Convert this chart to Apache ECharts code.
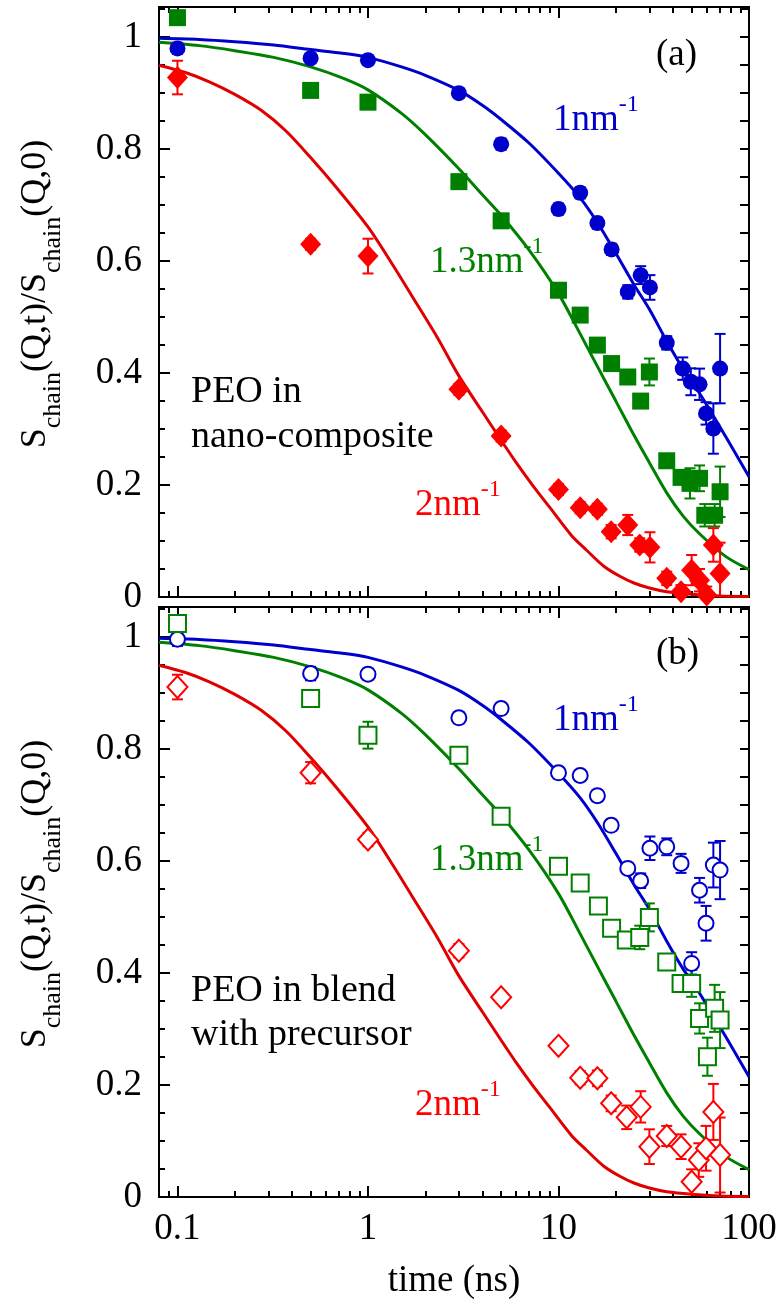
<!DOCTYPE html>
<html><head><meta charset="utf-8">
<script src="https://cdn.jsdelivr.net/npm/echarts@6/dist/echarts.min.js"></script>
<style>html,body{margin:0;padding:0;background:#fff}#c{width:781px;height:1305px}</style>
</head><body><div id="c"></div>
<script>
// ---------- axis ranges and tick labels ----------
const X_MIN = 0.08, X_MAX = 100, Y_MAX = 1.054;
const majorX = [0.1, 1, 10, 100];
const minorX = [0.09, 0.2, 0.3, 0.4, 0.5, 0.6, 0.7, 0.8, 0.9, 2, 3, 4, 5, 6, 7, 8, 9, 20, 30, 40, 50, 60, 70, 80, 90];

// ---------- panel (a): PEO in nano-composite (filled symbols) ----------
const aBlueT = [0.1, 0.5, 1, 3, 5, 10, 13, 16, 19, 23.1, 27, 30.2, 37, 44.9, 49.5, 55, 59.5, 65, 70.5];
const aBlueV = [0.980, 0.9625, 0.959, 0.900, 0.809, 0.693, 0.722, 0.668, 0.621, 0.545, 0.575, 0.553, 0.454, 0.408, 0.3845, 0.380, 0.328, 0.301, 0.408];
const aBlueE = [0.010, 0.008, 0.008, 0.008, 0.010, 0.010, 0.010, 0.010, 0.010, 0.012, 0.016, 0.022, 0.012, 0.020, 0.024, 0.028, 0.020, 0.045, 0.062];

const aGreenT = [0.1, 0.5, 1, 3, 5, 10, 13, 16, 19, 23.1, 27, 30, 37, 44, 49, 55, 58.6, 66, 70.5];
const aGreenV = [1.035, 0.905, 0.884, 0.742, 0.672, 0.548, 0.5036, 0.450, 0.417, 0.393, 0.350, 0.402, 0.2434, 0.2137, 0.203, 0.212, 0.146, 0.146, 0.188];
const aGreenE = [0.010, 0.008, 0.008, 0.008, 0.008, 0.008, 0.008, 0.008, 0.008, 0.010, 0.012, 0.024, 0.010, 0.012, 0.027, 0.023, 0.020, 0.020, 0.045];

const aRedT = [0.1, 0.5, 1, 3, 5, 10, 13, 16, 18.9, 23.1, 26.7, 30.2, 37, 44, 50, 55, 60, 65, 70.5];
const aRedV = [0.928, 0.630, 0.609, 0.371, 0.2875, 0.192, 0.1595, 0.1566, 0.1167, 0.1286, 0.0929, 0.0887, 0.0333, 0.0095, 0.048, 0.030, 0.0036, 0.093, 0.042];
const aRedE = [0.030, 0.010, 0.031, 0.010, 0.010, 0.010, 0.010, 0.010, 0.012, 0.018, 0.012, 0.027, 0.012, 0.012, 0.027, 0.020, 0.015, 0.030, 0.055];

// ---------- panel (b): PEO in blend with precursor (open symbols) ----------
const bBlueT = [0.1, 0.5, 1, 3, 5, 10, 13, 16, 18.9, 23.1, 27, 30.2, 37, 44, 50, 55, 59.5, 65, 70.5];
const bBlueV = [0.9964, 0.935, 0.934, 0.856, 0.8726, 0.7577, 0.753, 0.717, 0.664, 0.587, 0.565, 0.623, 0.6256, 0.596, 0.4173, 0.548, 0.489, 0.593, 0.584];
const bBlueE = [0.012, 0.012, 0.010, 0.010, 0.010, 0.010, 0.010, 0.010, 0.010, 0.010, 0.013, 0.021, 0.015, 0.017, 0.020, 0.022, 0.031, 0.040, 0.052];

const bGreenT = [0.1, 0.5, 1, 3, 5, 10, 13, 16.2, 19, 22.7, 26.7, 30, 37, 44, 50, 55, 60.5, 66, 70.5];
const bGreenV = [1.0244, 0.8905, 0.825, 0.789, 0.6804, 0.591, 0.561, 0.520, 0.480, 0.459, 0.4637, 0.4995, 0.420, 0.3816, 0.3816, 0.319, 0.2506, 0.337, 0.316];
const bGreenE = [0.015, 0.012, 0.024, 0.010, 0.010, 0.010, 0.010, 0.010, 0.010, 0.012, 0.021, 0.025, 0.010, 0.012, 0.024, 0.027, 0.034, 0.042, 0.050];

const bRedT = [0.1, 0.5, 1, 3, 5, 10, 13, 16, 18.9, 22.8, 27, 30, 37, 44, 50, 54.5, 59.5, 65, 70.5];
const bRedV = [0.911, 0.758, 0.6387, 0.44, 0.357, 0.270, 0.213, 0.212, 0.1673, 0.1423, 0.161, 0.0899, 0.109, 0.0899, 0.0274, 0.066, 0.087, 0.152, 0.075];
const bRedE = [0.022, 0.019, 0.012, 0.012, 0.010, 0.010, 0.012, 0.014, 0.014, 0.021, 0.028, 0.031, 0.018, 0.022, 0.022, 0.030, 0.040, 0.050, 0.067];

// ---------- fit curves (same in both panels) ----------
const fitBlueT = [0.08, 0.13, 0.2, 0.32, 0.5, 0.75, 1, 1.5, 2, 3, 4, 5, 7, 10, 13, 16, 20, 25, 30, 37, 45, 55, 75, 100];
const fitBlueV = [0.998, 0.996, 0.992, 0.986, 0.978, 0.971, 0.964, 0.947, 0.932, 0.905, 0.878, 0.853, 0.811, 0.757, 0.713, 0.669, 0.614, 0.557, 0.514, 0.457, 0.408, 0.364, 0.288, 0.215];
const fitGreenT = [0.08, 0.13, 0.2, 0.32, 0.5, 0.75, 1, 1.5, 2, 3, 4, 5, 7, 10, 13, 16, 20, 25, 30, 37, 45, 55, 75, 100];
const fitGreenV = [0.991, 0.985, 0.976, 0.964, 0.947, 0.926, 0.906, 0.864, 0.826, 0.765, 0.718, 0.682, 0.620, 0.542, 0.470, 0.412, 0.350, 0.288, 0.240, 0.186, 0.145, 0.113, 0.073, 0.049];
const fitRedT = [0.08, 0.11, 0.148, 0.2, 0.274, 0.37, 0.5, 0.7, 1, 1.35, 1.72, 2.3, 3, 4, 5, 6, 7.3, 9, 11.7, 14, 17.3, 21, 24.9, 30, 37, 50, 70, 100];
const fitRedV = [0.950, 0.937, 0.920, 0.898, 0.870, 0.833, 0.785, 0.727, 0.661, 0.593, 0.535, 0.465, 0.395, 0.330, 0.280, 0.240, 0.200, 0.160, 0.110, 0.084, 0.055, 0.037, 0.025, 0.016, 0.0095, 0.005, 0.002, 0.001];

// ---------- styling ----------
const FONT = 'Liberation Serif';
const COL = {blue: '#0000cc', green: '#008000', red: '#ff0000'};
const LCOL = {blue: '#0000cc', green: '#008000', red: '#e00000'};

const zip2 = (a, b) => a.map((v, i) => [v, b[i]]);
const errData = (t, v, e) => t.map((x, i) => [x, v[i] - e[i], v[i] + e[i]]);

function errRender(params, api) {
  const x = api.value(0), lo = api.value(1), hi = api.value(2);
  const p1 = api.coord([x, hi]), p2 = api.coord([x, lo]);
  const w = 5.5;
  const st = {stroke: api.visual('color'), lineWidth: 2, fill: null};
  return {type: 'group', children: [
    {type: 'line', shape: {x1: p1[0], y1: p1[1], x2: p2[0], y2: p2[1]}, style: st},
    {type: 'line', shape: {x1: p1[0] - w, y1: p1[1], x2: p1[0] + w, y2: p1[1]}, style: st},
    {type: 'line', shape: {x1: p2[0] - w, y1: p2[1], x2: p2[0] + w, y2: p2[1]}, style: st}
  ]};
}

const tickLine = {color: '#000', width: 2};
function xAxes(g) {
  const base = {type: 'log', logBase: 10, min: X_MIN, max: X_MAX, gridIndex: g,
    splitLine: {show: false}, axisLine: {show: true, onZero: false, lineStyle: {color: '#000', width: 2}}};
  return [
    Object.assign({}, base, {position: 'bottom',
      axisTick: {show: true, inside: true, length: 11, customValues: majorX, lineStyle: tickLine},
      axisLabel: g === 1 ? {show: true, customValues: majorX, margin: 14, fontFamily: FONT, fontSize: 37, color: '#000',
        formatter: v => String(Number(Number(v).toPrecision(3)))} : {show: false},
      name: g === 1 ? 'time (ns)' : '', nameLocation: 'middle', nameGap: 66,
      nameTextStyle: {fontFamily: FONT, fontSize: 37, color: '#000'}}),
    Object.assign({}, base, {position: 'top',
      axisTick: {show: true, inside: true, length: 11, customValues: majorX, lineStyle: tickLine}, axisLabel: {show: false}}),
    Object.assign({}, base, {position: 'bottom',
      axisTick: {show: true, inside: true, length: 6, customValues: minorX, lineStyle: tickLine}, axisLabel: {show: false}}),
    Object.assign({}, base, {position: 'top',
      axisTick: {show: true, inside: true, length: 6, customValues: minorX, lineStyle: tickLine}, axisLabel: {show: false}})
  ];
}
function yAxes(g) {
  const base = {type: 'value', min: 0, max: Y_MAX, gridIndex: g, splitLine: {show: false},
    axisLine: {show: true, onZero: false, lineStyle: {color: '#000', width: 2}}};
  return [
    Object.assign({}, base, {position: 'left', interval: 0.2,
      axisTick: {show: true, inside: true, length: 11, lineStyle: tickLine},
      minorTick: {show: true, splitNumber: 4, length: 6, lineStyle: tickLine},
      axisLabel: {show: true, margin: 17, fontFamily: FONT, fontSize: 37, color: '#000', showMaxLabel: false,
        formatter: v => String(Math.round(v * 10) / 10)}}),
    Object.assign({}, base, {position: 'right', interval: 0.05,
      axisTick: {show: true, inside: true, length: 9, lineStyle: tickLine}, axisLabel: {show: false}})
  ];
}

function panelSeries(g, sets, open) {
  const xi = g * 4, yi = g * 2;
  const out = [];
  const fits = [[fitBlueT, fitBlueV, 'blue'], [fitGreenT, fitGreenV, 'green'], [fitRedT, fitRedV, 'red']];
  fits.forEach(f => out.push({type: 'line', xAxisIndex: xi, yAxisIndex: yi, data: zip2(f[0], f[1]),
    showSymbol: false, smooth: 0.3, lineStyle: {width: 3, color: LCOL[f[2]]},
    itemStyle: {color: LCOL[f[2]]}, z: 2, silent: true, clip: true}));
  sets.forEach(s => out.push({type: 'custom', xAxisIndex: xi, yAxisIndex: yi, renderItem: errRender,
    data: errData(s.t, s.v, s.e), encode: {x: 0, y: [1, 2]}, itemStyle: {color: COL[s.c]}, z: 3, clip: true, silent: true}));
  sets.forEach(s => out.push({type: 'scatter', xAxisIndex: xi, yAxisIndex: yi, data: zip2(s.t, s.v),
    symbol: s.sym, symbolSize: s.size, z: 4, silent: true,
    itemStyle: open ? {color: '#fff', borderColor: COL[s.c], borderWidth: 2, opacity: 1}
                    : {color: COL[s.c], borderWidth: 0, opacity: 1}}));
  return out;
}

const setsA = [
  {t: aBlueT, v: aBlueV, e: aBlueE, c: 'blue', sym: 'circle', size: 16},
  {t: aGreenT, v: aGreenV, e: aGreenE, c: 'green', sym: 'rect', size: 17},
  {t: aRedT, v: aRedV, e: aRedE, c: 'red', sym: 'diamond', size: [21, 23]}
];
const setsB = [
  {t: bBlueT, v: bBlueV, e: bBlueE, c: 'blue', sym: 'circle', size: 15},
  {t: bGreenT, v: bGreenV, e: bGreenE, c: 'green', sym: 'rect', size: 17},
  {t: bRedT, v: bRedV, e: bRedE, c: 'red', sym: 'diamond', size: [20, 22]}
];

// ---------- annotations ----------
const qRich = (color) => ({
  m: {fontFamily: FONT, fontSize: 37, lineHeight: 37, padding: [9, 0, 0, 0], verticalAlign: 'top', fill: color},
  s: {fontFamily: FONT, fontSize: 24, lineHeight: 24, verticalAlign: 'top', fill: color}
});
function qLabel(txt, color, x, y) {
  return {type: 'text', x: x, y: y, z: 50, silent: true,
    style: {text: '{m|' + txt + '}{s|-1}', rich: qRich(color), align: 'left', verticalAlign: 'top'}};
}
const yTitleRich = {
  m: {fontFamily: FONT, fontSize: 36, lineHeight: 36, verticalAlign: 'top', fill: '#000'},
  s: {fontFamily: FONT, fontSize: 26, lineHeight: 26, padding: [22, 0, 0, 0], verticalAlign: 'top', fill: '#000'}
};
const yTitleText = '{m|S}{s|chain}{m|(Q,t)/S}{s|chain}{m|(Q,0)}';
function yTitle(cy) {
  return {type: 'text', x: 36, y: cy, rotation: Math.PI / 2, z: 50, silent: true,
    style: {text: yTitleText, rich: yTitleRich, align: 'center', verticalAlign: 'middle'}};
}
function plain(txt, x, y, size, lh, va) {
  return {type: 'text', x: x, y: y, z: 50, silent: true,
    style: {text: txt, fontFamily: FONT, fontSize: size, lineHeight: lh, fill: '#000', align: 'left', verticalAlign: va}};
}

const graphics = [
  yTitle(294), yTitle(894),
  plain('(a)', 656, 55, 37, 37, 'middle'),
  plain('(b)', 656, 654, 37, 37, 'middle'),
  plain('PEO in\nnano-composite', 191, 370, 38, 45, 'top'),
  plain('PEO in blend\nwith precursor', 191, 969, 38, 44, 'top'),
  qLabel('1nm', COL.blue, 553, 93),
  qLabel('1.3nm', COL.green, 430, 235),
  qLabel('2nm', COL.red, 415, 478),
  qLabel('1nm', COL.blue, 553, 693),
  qLabel('1.3nm', COL.green, 430, 833),
  qLabel('2nm', COL.red, 415, 1078)
];

const chart = echarts.init(document.getElementById('c'), null, {renderer: 'canvas', width: 781, height: 1305});
chart.setOption({
  animation: false,
  backgroundColor: '#fff',
  grid: [
    {left: 159, top: 7, width: 590, height: 590, containLabel: false, outerBoundsMode: 'none'},
    {left: 159, top: 607, width: 590, height: 590, containLabel: false, outerBoundsMode: 'none'}
  ],
  xAxis: xAxes(0).concat(xAxes(1)),
  yAxis: yAxes(0).concat(yAxes(1)),
  series: panelSeries(0, setsA, false).concat(panelSeries(1, setsB, true)),
  graphic: graphics
});
</script>
</body></html>
